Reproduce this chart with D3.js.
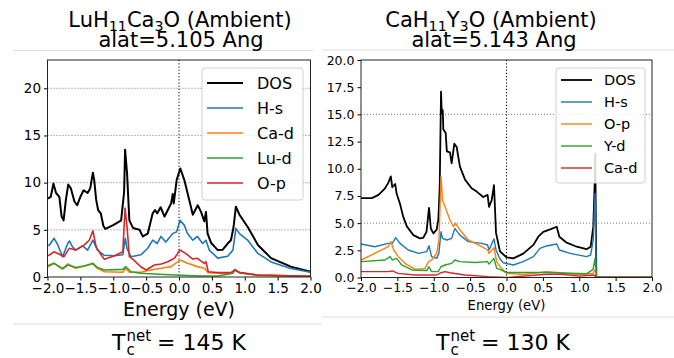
<!DOCTYPE html>
<html><head><meta charset="utf-8">
<script src="https://cdn.jsdelivr.net/npm/d3@7"></script>
<style>body{margin:0;background:#fff}svg{display:block;font-family:"DejaVu Sans",sans-serif}</style>
</head><body><svg id="c" width="674" height="358"></svg>
<script>
// ---------- data ----------
const energyTicks=[-2,-1.5,-1,-0.5,0,0.5,1,1.5,2];
const leftYTicks=[0,5,10,15,20];
const rightYTicks=[0,2.5,5,7.5,10,12.5,15,17.5,20];
const leftGrid=[5,10,15,20];
const rightGrid=[5,15];
const leftLabels=["DOS","H-s","Ca-d","Lu-d","O-p"];
const rightLabels=["DOS","H-s","O-p","Y-d","Ca-d"];
const seriesColors=["#000000","#1f77b4","#ff7f0e","#2ca02c","#d62728"];

const leftDOS=[[-2.0,8.3],[-1.95,8.5],[-1.91,9.9],[-1.87,8.9],[-1.82,8.5],[-1.785,6.4],[-1.755,6.0],[-1.72,8.2],[-1.685,9.8],[-1.645,9.4],[-1.59,8.0],[-1.55,7.6],[-1.50,8.5],[-1.45,9.2],[-1.39,8.9],[-1.35,9.4],[-1.31,11.05],[-1.29,10.3],[-1.26,8.2],[-1.23,7.1],[-1.19,6.75],[-1.15,5.4],[-1.12,5.1],[-1.0,5.5],[-0.88,6.0],[-0.835,9.0],[-0.82,13.5],[-0.79,11.0],[-0.755,6.0],[-0.70,5.2],[-0.60,5.0],[-0.55,4.3],[-0.475,4.6],[-0.40,6.75],[-0.365,7.1],[-0.33,6.75],[-0.28,7.4],[-0.22,6.4],[-0.17,7.1],[-0.12,7.8],[-0.095,8.8],[-0.08,7.8],[-0.035,10.3],[0.02,11.5],[0.08,10.3],[0.155,8.2],[0.21,6.6],[0.285,7.6],[0.335,6.9],[0.385,5.9],[0.41,6.9],[0.435,4.6],[0.49,3.6],[0.59,2.85],[0.665,2.9],[0.74,3.55],[0.79,3.9],[0.83,5.3],[0.865,7.45],[0.92,6.6],[1.045,5.3],[1.2,3.4],[1.4,2.0],[1.7,1.1],[2.0,0.55]];
const leftHs=[[-2.0,3.3],[-1.97,3.4],[-1.90,4.1],[-1.85,3.5],[-1.77,2.15],[-1.69,3.6],[-1.665,3.8],[-1.62,3.2],[-1.57,2.85],[-1.465,3.3],[-1.39,2.85],[-1.31,3.9],[-1.24,2.85],[-1.135,2.3],[-0.98,2.25],[-0.855,2.35],[-0.817,4.1],[-0.79,3.0],[-0.73,2.15],[-0.58,2.35],[-0.475,3.05],[-0.40,3.9],[-0.33,3.55],[-0.275,4.3],[-0.20,3.7],[-0.095,4.6],[-0.035,4.8],[0.015,6.0],[0.08,5.5],[0.13,4.6],[0.21,3.9],[0.28,4.3],[0.36,3.55],[0.41,3.9],[0.46,2.85],[0.59,2.0],[0.74,2.2],[0.82,2.85],[0.865,5.15],[0.92,4.6],[1.045,3.9],[1.2,2.5],[1.4,1.6],[1.7,0.9],[2.0,0.5]];
const leftCad=[[-2.0,1.1],[-1.97,1.17],[-1.90,1.45],[-1.77,0.92],[-1.69,1.38],[-1.57,0.92],[-1.44,1.17],[-1.31,1.38],[-1.24,0.92],[-1.135,0.56],[-0.855,0.5],[-0.81,0.92],[-0.755,0.5],[-0.58,0.5],[-0.43,0.75],[-0.27,0.92],[-0.12,1.1],[0.015,1.8],[0.13,1.45],[0.28,1.1],[0.385,0.92],[0.445,0.46],[0.59,0.39],[0.79,0.39],[0.85,0.74],[0.92,0.46],[1.2,0.21],[2.0,0.07]];
const leftLud=[[-2.0,1.2],[-1.97,1.27],[-1.90,1.45],[-1.77,0.85],[-1.69,1.27],[-1.57,1.0],[-1.44,1.17],[-1.31,1.45],[-1.24,1.0],[-1.135,0.74],[-0.855,0.81],[-0.81,1.09],[-0.73,0.56],[-0.58,0.39],[-0.375,0.32],[-0.07,0.21],[0.32,0.1],[0.59,0.1],[0.82,0.39],[0.85,0.81],[0.92,0.46],[1.2,0.17],[2.0,0.07]];
const leftOp=[[-2.0,2.25],[-1.97,2.33],[-1.90,2.68],[-1.795,2.33],[-1.75,2.15],[-1.67,3.04],[-1.57,2.86],[-1.44,3.4],[-1.365,3.9],[-1.31,4.9],[-1.26,3.2],[-1.20,2.5],[-1.135,1.87],[-0.98,2.25],[-0.855,2.68],[-0.82,7.3],[-0.79,5.3],[-0.755,2.15],[-0.70,1.87],[-0.58,1.09],[-0.50,0.74],[-0.375,1.27],[-0.27,1.38],[-0.17,1.62],[-0.07,1.98],[0.015,2.86],[0.1,2.5],[0.21,1.9],[0.28,1.98],[0.385,1.45],[0.41,1.62],[0.445,0.56],[0.59,0.46],[0.79,0.46],[0.85,0.74],[0.92,0.46],[1.2,0.21],[2.0,0.07]];

const rightDOS=[[-2.0,7.3],[-1.85,7.3],[-1.76,7.6],[-1.67,8.2],[-1.625,8.7],[-1.59,9.3],[-1.57,8.3],[-1.53,8.6],[-1.51,7.7],[-1.465,6.8],[-1.42,5.6],[-1.37,4.7],[-1.28,3.9],[-1.19,3.6],[-1.145,3.65],[-1.10,4.2],[-1.065,6.4],[-1.04,4.5],[-1.005,4.05],[-0.96,4.4],[-0.937,5.3],[-0.918,8.3],[-0.90,17.1],[-0.89,15.1],[-0.877,15.4],[-0.868,13.6],[-0.836,13.3],[-0.82,11.6],[-0.777,11.5],[-0.754,10.5],[-0.717,12.3],[-0.685,12.0],[-0.64,10.2],[-0.57,9.0],[-0.48,8.2],[-0.41,7.9],[-0.32,7.4],[-0.26,7.6],[-0.24,6.5],[-0.204,7.1],[-0.172,8.5],[-0.144,4.1],[-0.09,2.4],[0.0,1.86],[0.094,1.76],[0.23,2.2],[0.37,3.0],[0.437,3.75],[0.506,4.2],[0.6,4.43],[0.69,4.67],[0.727,3.75],[0.827,3.2],[0.965,2.83],[1.10,2.6],[1.157,2.83],[1.193,4.67],[1.212,8.66],[1.22,11.4],[1.235,0],[2.0,0]];
const rightHs=[[-2.0,3.08],[-1.81,2.83],[-1.625,3.14],[-1.57,3.14],[-1.523,3.66],[-1.464,3.14],[-1.35,2.53],[-1.21,2.22],[-1.097,2.38],[-1.065,2.93],[-1.03,1.92],[-0.96,1.76],[-0.93,2.22],[-0.90,4.21],[-0.88,3.6],[-0.82,3.45],[-0.754,3.6],[-0.71,4.52],[-0.64,3.9],[-0.525,3.3],[-0.34,3.14],[-0.26,2.99],[-0.24,2.53],[-0.172,3.55],[-0.144,2.53],[-0.09,1.7],[-0.044,1.36],[0.094,1.15],[0.23,1.46],[0.37,1.92],[0.46,2.68],[0.55,2.9],[0.69,3.08],[0.727,2.53],[0.873,2.22],[1.1,1.92],[1.157,2.07],[1.193,3.45],[1.217,7.74],[1.235,0],[2.0,0]];
const rightOp=[[-2.0,1.61],[-1.853,2.07],[-1.715,2.53],[-1.625,2.83],[-1.59,3.3],[-1.55,2.53],[-1.487,1.92],[-1.395,1.3],[-1.258,0.75],[-1.12,0.84],[-1.07,1.46],[-1.03,1.61],[-0.96,2.22],[-0.928,3.45],[-0.90,9.27],[-0.88,7.13],[-0.845,6.5],[-0.777,5.29],[-0.73,4.67],[-0.70,4.98],[-0.64,4.37],[-0.525,3.45],[-0.34,2.83],[-0.26,2.53],[-0.24,2.22],[-0.172,2.75],[-0.135,1.46],[-0.09,1.0],[-0.03,0.6],[0.003,0.39],[0.23,0.28],[0.55,0.53],[0.69,0.46],[1.0,0.25],[1.19,0.39],[1.22,0.74],[1.235,0],[2.0,0]];
const rightYd=[[-2.0,1.46],[-1.67,1.61],[-1.60,1.92],[-1.57,1.61],[-1.51,1.76],[-1.44,1.15],[-1.30,0.69],[-1.097,0.64],[-1.065,0.99],[-1.03,0.54],[-0.94,0.54],[-0.90,0.99],[-0.845,1.15],[-0.754,1.3],[-0.71,1.61],[-0.64,1.46],[-0.43,1.38],[-0.26,1.46],[-0.24,1.23],[-0.172,1.76],[-0.135,0.84],[-0.09,0.74],[0.0,0.46],[0.55,0.46],[1.1,0.34],[1.19,0.74],[1.217,1.76],[1.235,0],[2.0,0]];
const rightCad=[[-2.0,0.54],[-1.625,0.54],[-1.57,0.6],[-1.49,0.38],[-1.26,0.23],[-0.96,0.23],[-0.9,0.44],[-0.845,0.54],[-0.777,0.44],[-0.57,0.23],[-0.25,0.08],[0.0,0.0],[0.55,0.3],[0.75,0.3],[1.0,0.13],[1.2,0.23],[1.235,0],[2.0,0]];

// ---------- drawing ----------
const svg=d3.select("#c");
const FONT='"DejaVu Sans",sans-serif';

[[13,50.5,313,50.5],[322,50,674,50],[13,324,322,324],[322,317,674,317]].forEach(l=>{
  svg.append("line").attr("x1",l[0]).attr("y1",l[1]).attr("x2",l[2]).attr("y2",l[3])
    .attr("stroke","#dcdcdc").attr("stroke-width",1);
});

function title(cx,parts,y,size){
  const t=svg.append("text").attr("x",cx).attr("y",y).attr("text-anchor","middle")
    .attr("font-size",size).attr("fill","#000");
  let shift=0;
  parts.forEach(p=>{
    const s=t.append("tspan").text(p.t);
    if(p.sub){ s.attr("font-size",size*0.68).attr("dy",4-shift); shift=4; }
    else { s.attr("font-size",size); if(shift){ s.attr("dy",-shift); shift=0; } }
  });
}
title(180,[{t:"LuH"},{t:"11",sub:1},{t:"Ca"},{t:"3",sub:1},{t:"O (Ambient)"}],26.5,21);
svg.append("text").attr("x",181).attr("y",47).attr("text-anchor","middle").attr("font-size",21).text("alat=5.105 Ang");
title(491,[{t:"CaH"},{t:"11",sub:1},{t:"Y"},{t:"3",sub:1},{t:"O (Ambient)"}],26.5,21);
svg.append("text").attr("x",494).attr("y",47).attr("text-anchor","middle").attr("font-size",21).text("alat=5.143 Ang");

function tc(cx,val){
  const g=svg.append("g");
  const fs=22;
  const T=g.append("text").attr("y",350).attr("font-size",fs).text("T");
  const tw=T.node().getComputedTextLength();
  g.append("text").attr("x",tw+1).attr("y",355).attr("font-size",15).text("c");
  const n=g.append("text").attr("x",tw+1).attr("y",341).attr("font-size",15).text("net");
  const nw=n.node().getComputedTextLength();
  const r=g.append("text").attr("x",tw+1+nw+6).attr("y",350).attr("font-size",fs).text("= "+val+" K");
  const total=tw+1+nw+6+r.node().getComputedTextLength();
  g.attr("transform",`translate(${cx-total/2},0)`);
}
tc(179,"145");
tc(503,"130");

let clipId=0;
function panel(p){
  const x=d3.scaleLinear().domain([-2,2]).range([p.x0,p.x1]);
  const y=d3.scaleLinear().domain([0,p.ymax]).range([p.y1,p.y0]);
  const g=svg.append("g");
  const cid="clip"+(clipId++);
  g.append("clipPath").attr("id",cid).append("rect")
    .attr("x",p.x0).attr("y",p.y0).attr("width",p.x1-p.x0).attr("height",p.y1-p.y0);
  p.grid.forEach(v=>{
    g.append("line").attr("x1",p.x0).attr("x2",p.x1).attr("y1",y(v)).attr("y2",y(v))
      .attr("stroke","#777").attr("stroke-width",1).attr("stroke-dasharray","1,2");
  });
  g.append("line").attr("x1",x(0)).attr("x2",x(0)).attr("y1",p.y0).attr("y2",p.y1)
    .attr("stroke","#000").attr("stroke-width",1).attr("stroke-dasharray","1.2,2");
  const line=d3.line().x(d=>x(d[0])).y(d=>y(d[1]));
  const lg=g.append("g").attr("clip-path",`url(#${cid})`);
  p.series.forEach((s,i)=>{
    lg.append("path").attr("d",line(s)).attr("fill","none")
      .attr("stroke",seriesColors[i]).attr("stroke-width",i===0?p.lwDos:p.lw)
      .attr("stroke-linejoin","round");
  });
  const xa=g.append("g").attr("transform",`translate(0,${p.y1})`)
    .call(d3.axisBottom(x).tickValues(energyTicks).tickFormat(d3.format(".1f")).tickSize(3.5).tickPadding(2.5).tickSizeOuter(0));
  xa.select(".domain").remove();
  xa.selectAll("text").attr("font-size",p.fsTick).attr("font-family",FONT).attr("fill","#000");
  xa.selectAll("line").attr("stroke","#000");
  const ya=g.append("g").attr("transform",`translate(${p.x0},0)`)
    .call(d3.axisLeft(y).tickValues(p.yTicks).tickFormat(p.yFmt).tickSize(3.5).tickPadding(3).tickSizeOuter(0));
  ya.select(".domain").remove();
  ya.selectAll("text").attr("font-size",p.fsTick).attr("font-family",FONT).attr("fill","#000");
  ya.selectAll("line").attr("stroke","#000");
  g.append("rect").attr("x",p.x0).attr("y",p.y0).attr("width",p.x1-p.x0).attr("height",p.y1-p.y0)
    .attr("fill","none").attr("stroke","#222").attr("stroke-width",1);
  g.append("text").attr("x",(p.x0+p.x1)/2).attr("y",p.xlY).attr("text-anchor","middle")
    .attr("font-size",p.fsXl).text("Energy (eV)");
  const L=p.legend;
  g.append("rect").attr("x",L.x).attr("y",L.y).attr("width",L.w).attr("height",L.h)
    .attr("rx",3).attr("fill","#fff").attr("fill-opacity",0.85).attr("stroke","#d0d0d0");
  p.labels.forEach((lab,i)=>{
    const yy=L.first+i*L.step;
    g.append("line").attr("x1",L.lx0).attr("x2",L.lx1).attr("y1",yy).attr("y2",yy)
      .attr("stroke",seriesColors[i]).attr("stroke-width",i===0?p.lwDos:p.lw);
    g.append("text").attr("x",L.tx).attr("y",yy).attr("dy","0.36em").attr("font-size",L.fs).text(lab);
  });
}

panel({x0:47.5,x1:310.5,y0:60,y1:277,ymax:23,yTicks:leftYTicks,yFmt:d3.format("d"),grid:leftGrid,
  series:[leftDOS,leftHs,leftCad,leftLud,leftOp],labels:leftLabels,lwDos:2,lw:1.6,fsTick:13.5,fsXl:19,xlY:316,
  legend:{x:202,y:68,w:101,h:132,first:83,step:25,lx0:207,lx1:243,tx:257,fs:16}});
panel({x0:361,x1:652,y0:60,y1:277.5,ymax:20,yTicks:rightYTicks,yFmt:d3.format(".1f"),grid:rightGrid,
  series:[rightDOS,rightHs,rightOp,rightYd,rightCad],labels:rightLabels,lwDos:1.8,lw:1.4,fsTick:12.5,fsXl:13.2,xlY:310,
  legend:{x:556,y:68,w:89,h:115,first:80,step:22,lx0:561,lx1:592,tx:604,fs:14.5}});
</script></body></html>
